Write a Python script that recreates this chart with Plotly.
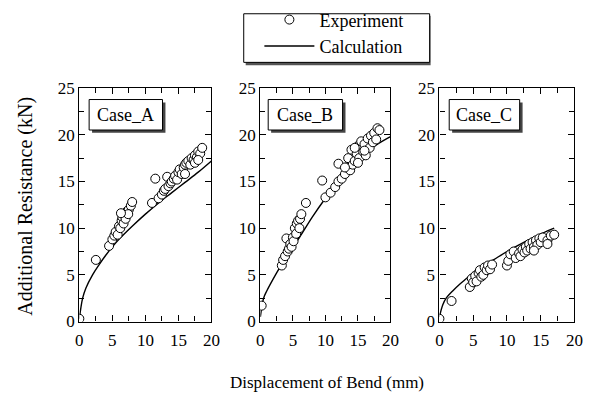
import plotly.graph_objects as go

# ---------------- data ----------------
case_names = ["Case_A", "Case_B", "Case_C"]

# Experiment points
expA_x = [0, 2.5, 4.5, 5.0, 5.3, 5.5, 5.8, 6.0, 6.2, 6.4, 6.5, 6.7, 6.9, 7.0, 7.2, 7.5, 7.8, 8.0, 7.4, 6.3,
          11.0, 11.5, 12.0, 12.5, 12.8, 13.0, 13.3, 13.5, 13.8, 14.0, 14.3, 14.5, 14.8, 15.0, 15.2, 15.5,
          15.8, 16.0, 16.2, 16.5, 16.8, 17.0, 17.3, 17.5, 17.8, 18.0, 18.3, 18.6, 16.0, 17.5, 18.0]
expA_y = [0.3, 6.6, 8.1, 8.8, 9.2, 9.6, 9.3, 10.2, 10.0, 10.8, 11.2, 10.5, 11.4, 11.0, 11.8, 12.0, 12.4, 12.8, 11.5, 11.6,
          12.7, 15.3, 13.2, 13.6, 14.0, 14.2, 15.5, 14.5, 14.8, 15.0, 15.3, 15.6, 15.2, 16.0, 16.3, 15.8,
          16.5, 16.8, 17.0, 17.2, 16.8, 17.5, 17.3, 17.8, 17.6, 18.2, 18.0, 18.6, 15.8, 17.0, 17.3]

expB_x = [0.2, 3.3, 3.5, 3.8, 4.0, 4.2, 4.4, 4.6, 4.8, 5.0, 5.1, 5.3, 5.5, 5.6, 5.8, 6.0, 6.1, 6.3, 7.0, 9.5,
          10.0, 10.8, 11.5, 12.0, 12.0, 12.5, 13.0, 13.3, 13.5, 13.8, 14.0, 14.2, 14.5, 14.8, 15.0, 15.2,
          15.5, 15.8, 16.0, 16.2, 16.5, 16.8, 17.0, 17.3, 17.5, 17.8, 18.0, 18.3, 14.5, 13.0, 15.0, 16.0]
expB_y = [1.7, 6.0, 6.6, 7.0, 8.9, 7.5, 7.8, 8.3, 8.0, 9.0, 8.6, 10.0, 9.4, 10.5, 10.8, 10.0, 11.0, 11.5, 12.7, 15.1,
          13.3, 13.8, 14.4, 15.0, 16.9, 15.3, 15.8, 16.5, 17.5, 16.2, 18.4, 16.8, 17.2, 18.0, 18.8, 17.5,
          19.3, 18.2, 19.0, 17.8, 19.6, 18.6, 19.9, 19.2, 20.2, 19.5, 20.7, 20.5, 18.6, 16.5, 17.0, 18.3]

expC_x = [0, 1.8, 4.5, 4.8, 5.0, 5.3, 5.5, 5.8, 6.0, 6.2, 6.5, 6.7, 7.0, 7.2, 7.5, 7.8,
          10.0, 10.2, 10.5, 11.0, 11.3, 11.8, 12.0, 12.3, 12.6, 12.8, 13.0, 13.3, 13.5, 13.8,
          14.0, 14.3, 14.5, 14.8, 15.0, 15.3, 16.0, 16.5, 17.0, 14.0, 16.0]
expC_y = [0.3, 2.2, 3.7, 4.6, 4.2, 4.9, 4.3, 5.2, 5.5, 4.8, 5.0, 5.8, 5.5, 6.0, 5.6, 6.1,
          6.0, 6.5, 7.2, 7.5, 6.8, 7.3, 7.0, 7.7, 7.4, 8.0, 7.6, 8.3, 7.8, 8.5,
          8.0, 8.7, 8.2, 8.9, 8.5, 9.0, 8.7, 9.2, 9.3, 7.6, 8.3]

# Calculation curves
calcA_x = [0, 0.5, 1, 2, 3, 4, 5, 6, 8, 10, 12, 14, 16, 18, 20]
calcA_y = [0.3, 2.5, 3.6, 5.0, 6.1, 7.1, 8.0, 8.8, 10.2, 11.5, 12.7, 13.8, 14.9, 16.0, 17.2]

calcB_x = [0, 0.5, 1, 2, 3, 4, 5, 6, 8, 10, 12, 14, 16, 18, 20]
calcB_y = [0.5, 2.5, 3.3, 4.6, 5.8, 6.9, 8.0, 9.0, 11.2, 13.2, 15.0, 16.6, 18.0, 19.0, 19.8]

calcC_x = [0, 0.5, 1, 2, 3, 4, 5, 6, 8, 10, 12, 14, 16, 17]
calcC_y = [0.5, 1.8, 2.5, 3.3, 4.0, 4.6, 5.2, 5.7, 6.6, 7.5, 8.3, 9.0, 9.7, 10.0]

x_ticks = [0, 5, 10, 15, 20]
y_ticks = [0, 5, 10, 15, 20, 25]

# ---------------- figure ----------------
W, H = 604, 403
FONT = "Liberation Serif"

x_dom = [(77 / W, 212 / W), (262 / W, 395 / W), (445 / W, 583 / W)]
y_dom = (1 - 328 / H, 1 - 83 / H)

fig = go.Figure()

exps = [(expA_x, expA_y), (expB_x, expB_y), (expC_x, expC_y)]
calcs = [(calcA_x, calcA_y), (calcB_x, calcB_y), (calcC_x, calcC_y)]

for i in range(3):
    xa = "x" if i == 0 else f"x{i+1}"
    ya = "y" if i == 0 else f"y{i+1}"
    fig.add_trace(go.Scatter(
        x=calcs[i][0], y=calcs[i][1], mode="lines", name="Calculation",
        line=dict(color="black", width=1.4, shape="spline"),
        xaxis=xa, yaxis=ya, showlegend=False))
    fig.add_trace(go.Scatter(
        x=exps[i][0], y=exps[i][1], mode="markers", name="Experiment",
        marker=dict(symbol="circle", size=9, color="white",
                    line=dict(color="black", width=1)),
        xaxis=xa, yaxis=ya, showlegend=(i == 0)))

# legend-only calculation entry (Experiment first, then Calculation)
fig.add_trace(go.Scatter(x=[None], y=[None], mode="lines", name="Calculation",
                         line=dict(color="black", width=1.4), showlegend=True))

axis_common = dict(
    showline=True, linecolor="black", linewidth=1.2, mirror="allticks",
    ticks="inside", ticklen=6, tickwidth=1, tickcolor="black",
    showgrid=False, zeroline=False,
    tickfont=dict(family=FONT, size=17, color="black"),
    minor=dict(ticks="inside", ticklen=5, tickwidth=1, tickcolor="black", dtick=2.5, showgrid=False),
)

layout = dict(
    width=W, height=H,
    margin=dict(l=0, r=0, t=0, b=0),
    paper_bgcolor="white", plot_bgcolor="white",
    font=dict(family=FONT, size=16, color="black"),
    showlegend=True,
    legend=dict(x=261 / W, y=1 + 8 / H, xanchor="left", yanchor="top",
                borderwidth=0, bgcolor="rgba(0,0,0,0)",
                font=dict(family=FONT, size=18, color="black"),
                itemwidth=50, tracegroupgap=0),
)

for i in range(3):
    sx = "" if i == 0 else str(i + 1)
    layout["xaxis" + sx] = dict(axis_common, domain=list(x_dom[i]), range=[0, 20],
                                tickvals=x_ticks, anchor="y" + sx, ticklabelstandoff=3)
    layout["yaxis" + sx] = dict(axis_common, domain=list(y_dom), range=[0, 25],
                                tickvals=y_ticks, anchor="x" + sx)

fig.update_layout(**layout)

shapes = []
annotations = []

# legend frame with shadow
lx0, lx1, ly0, ly1 = 245, 435, 5, 56
shapes.append(dict(type="rect", xref="paper", yref="paper",
                   x0=(lx0 + 2) / W, x1=(lx1 + 1) / W, y0=1 - (ly1 + 3) / H, y1=1 - (ly0 + 2) / H,
                   fillcolor="#555555", line=dict(width=0)))
shapes.append(dict(type="rect", xref="paper", yref="paper",
                   x0=lx0 / W, x1=lx1 / W, y0=1 - ly1 / H, y1=1 - ly0 / H,
                   fillcolor="white", line=dict(color="black", width=1)))

# Case label boxes with shadow
box_px = [(87, 162), (270, 346), (455, 527)]
for i, name in enumerate(case_names):
    x0, x1 = box_px[i]
    y0, y1 = 95, 127
    shapes.append(dict(type="rect", xref="paper", yref="paper",
                       x0=(x0 + 3) / W, x1=(x1 + 3) / W, y0=1 - (y1 + 3) / H, y1=1 - (y0 + 3) / H,
                       fillcolor="#444444", line=dict(width=0)))
    shapes.append(dict(type="rect", xref="paper", yref="paper",
                       x0=x0 / W, x1=x1 / W, y0=1 - y1 / H, y1=1 - y0 / H,
                       fillcolor="white", line=dict(color="black", width=1)))
    annotations.append(dict(text=name, xref="paper", yref="paper",
                            x=(x0 + x1) / 2 / W, y=1 - (y0 + y1) / 2 / H,
                            showarrow=False, font=dict(family=FONT, size=18, color="black"),
                            xanchor="center", yanchor="middle"))

annotations.append(dict(text="Additional Resistance (kN)", xref="paper", yref="paper",
                        x=22 / W, y=1 - 207 / H, textangle=-90, showarrow=False,
                        font=dict(family=FONT, size=20, color="black"),
                        xanchor="center", yanchor="middle"))
annotations.append(dict(text="Displacement of Bend (mm)", xref="paper", yref="paper",
                        x=330 / W, y=1 - 392 / H, showarrow=False,
                        font=dict(family=FONT, size=17, color="black"),
                        xanchor="center", yanchor="middle"))

fig.update_layout(shapes=shapes, annotations=annotations)

fig.write_html("out.html")
